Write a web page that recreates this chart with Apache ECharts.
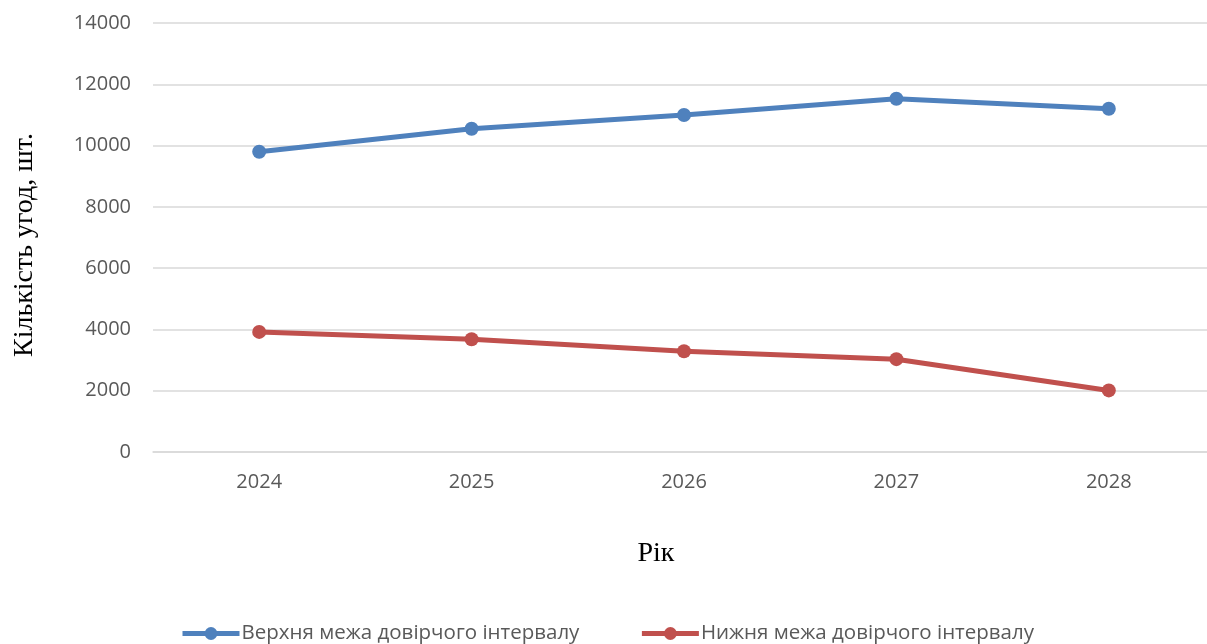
<!DOCTYPE html>
<html>
<head>
<meta charset="utf-8">
<script src="https://cdn.jsdelivr.net/npm/echarts@6/dist/echarts.min.js"></script>
<style>
  html, body { margin: 0; padding: 0; background: #ffffff; }
  #chart { width: 1207px; height: 644px; }
</style>
</head>
<body>
<div id="chart"></div>
<script>
// Прогноз кількості угод: межі довірчого інтервалу
const years = ['2024', '2025', '2026', '2027', '2028'];
const upperBound = [9800, 10550, 11000, 11530, 11200];
const lowerBound = [3920, 3680, 3290, 3030, 2010];
const upperName = 'Верхня межа довірчого інтервалу';
const lowerName = 'Нижня межа довірчого інтервалу';
const yTicks = { min: 0, max: 14000, step: 2000 };

const labelFont = '"Open Sans", "Liberation Sans", sans-serif';
const titleFont = '"Liberation Serif", "DejaVu Serif", serif';

const chart = echarts.init(document.getElementById('chart'), null, { renderer: 'canvas' });

chart.setOption({
  animation: false,
  backgroundColor: '#ffffff',
  // the plot area runs a little past the right edge of the canvas
  grid: { left: 153, width: 1062, top: 23, bottom: 192, containLabel: false, outerBoundsMode: 'none' },
  legend: {
    data: [upperName, lowerName],
    left: 175,
    top: 618,
    itemWidth: 57,
    itemHeight: 16,
    itemGap: 60,
    lineStyle: { width: 5 },
    textStyle: { fontFamily: labelFont, fontSize: 20.5, color: '#595959', padding: [0, 0, 0, -3] }
  },
  xAxis: {
    type: 'category',
    data: years,
    boundaryGap: true,
    name: 'Рік',
    nameLocation: 'middle',
    nameGap: 88,
    nameTextStyle: { fontFamily: titleFont, fontSize: 28, color: '#000000', padding: [0, 56, 0, 0] },
    axisLine: { show: true, lineStyle: { color: '#d9d9d9', width: 1.5 } },
    axisTick: { show: false },
    axisLabel: { fontFamily: labelFont, fontSize: 20, color: '#595959', margin: 20 },
    splitLine: { show: false }
  },
  yAxis: {
    type: 'value',
    min: yTicks.min,
    max: yTicks.max,
    interval: yTicks.step,
    name: 'Кількість угод, шт.',
    nameLocation: 'middle',
    nameGap: 114,
    nameTextStyle: { fontFamily: titleFont, fontSize: 28, color: '#000000', padding: [0, 15, 0, 0] },
    axisLine: { show: false },
    axisTick: { show: false },
    axisLabel: {
      fontFamily: labelFont, fontSize: 20, color: '#595959', margin: 22,
      formatter: (v) => String(v)
    },
    splitLine: { show: true, lineStyle: { color: '#d9d9d9', width: 1.5 } }
  },
  series: [
    {
      name: upperName,
      type: 'line',
      data: upperBound,
      symbol: 'circle',
      symbolSize: 14,
      lineStyle: { color: '#4f81bd', width: 5 },
      itemStyle: { color: '#4f81bd' }
    },
    {
      name: lowerName,
      type: 'line',
      data: lowerBound,
      symbol: 'circle',
      symbolSize: 14,
      lineStyle: { color: '#c0504d', width: 5 },
      itemStyle: { color: '#c0504d' }
    }
  ]
});
</script>
</body>
</html>
